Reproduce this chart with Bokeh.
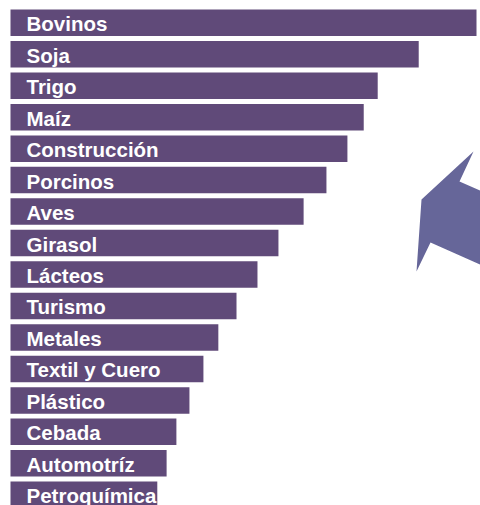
from bokeh.plotting import figure
from bokeh.models import Range1d, ColumnDataSource
from bokeh.core.properties import value
from bokeh.embed import file_html
from bokeh.resources import INLINE

categories = ["Bovinos", "Soja", "Trigo", "Maíz", "Construcción", "Porcinos", "Aves",
              "Girasol", "Lácteos", "Turismo", "Metales", "Textil y Cuero", "Plástico",
              "Cebada", "Automotríz", "Petroquímica"]
values = [100.0, 87.6, 78.8, 75.8, 72.3, 67.8, 62.9, 57.5, 53.0, 48.5, 44.6, 41.4,
          38.4, 35.6, 33.5, 31.5]

# decorative arrow shape (page-pixel outline, converted to data space below)
deco_px_x = [473, 459, 482, 482, 430, 416, 421]
deco_px_y = [151, 181, 191, 265, 242, 271, 199]

W, H = 480, 505
PAGE_OFFSET = 0
PX_PER_UNIT = 4.66
X0_PAGE = 10.0
ROW0_PAGE = 22.25
ROW_STEP = 31.47

x_start = (PAGE_OFFSET - X0_PAGE) / PX_PER_UNIT
x_end = x_start + W / PX_PER_UNIT
y_top = (PAGE_OFFSET - ROW0_PAGE) / ROW_STEP
y_bottom = y_top + H / ROW_STEP

p = figure(width=W, height=H, output_backend="svg", toolbar_location=None,
           x_range=Range1d(x_start, x_end), y_range=Range1d(y_bottom, y_top),
           min_border=0, outline_line_color=None, background_fill_color="white",
           border_fill_color="white")
p.axis.visible = False
p.grid.visible = False

idx = list(range(len(categories)))
src = ColumnDataSource(dict(y=idx, v=values, name=categories, zero=[0] * len(idx)))

p.hbar(y="y", left="zero", right="v", height=26.5 / ROW_STEP, source=src,
       fill_color="#604a79", line_color=None)

p.text(x="zero", y="y", text="name", source=src, x_offset=16, y_offset=1,
       text_color="white", text_font=value("Liberation Sans"), text_font_style="bold",
       text_font_size="20.5px", text_baseline="middle", text_align="left")

dx = [(px - X0_PAGE) / PX_PER_UNIT for px in deco_px_x]
dy = [(py - ROW0_PAGE) / ROW_STEP for py in deco_px_y]
p.patch(dx, dy, fill_color="#666699", line_color=None)

open("out.html", "w").write(file_html(p, INLINE))
